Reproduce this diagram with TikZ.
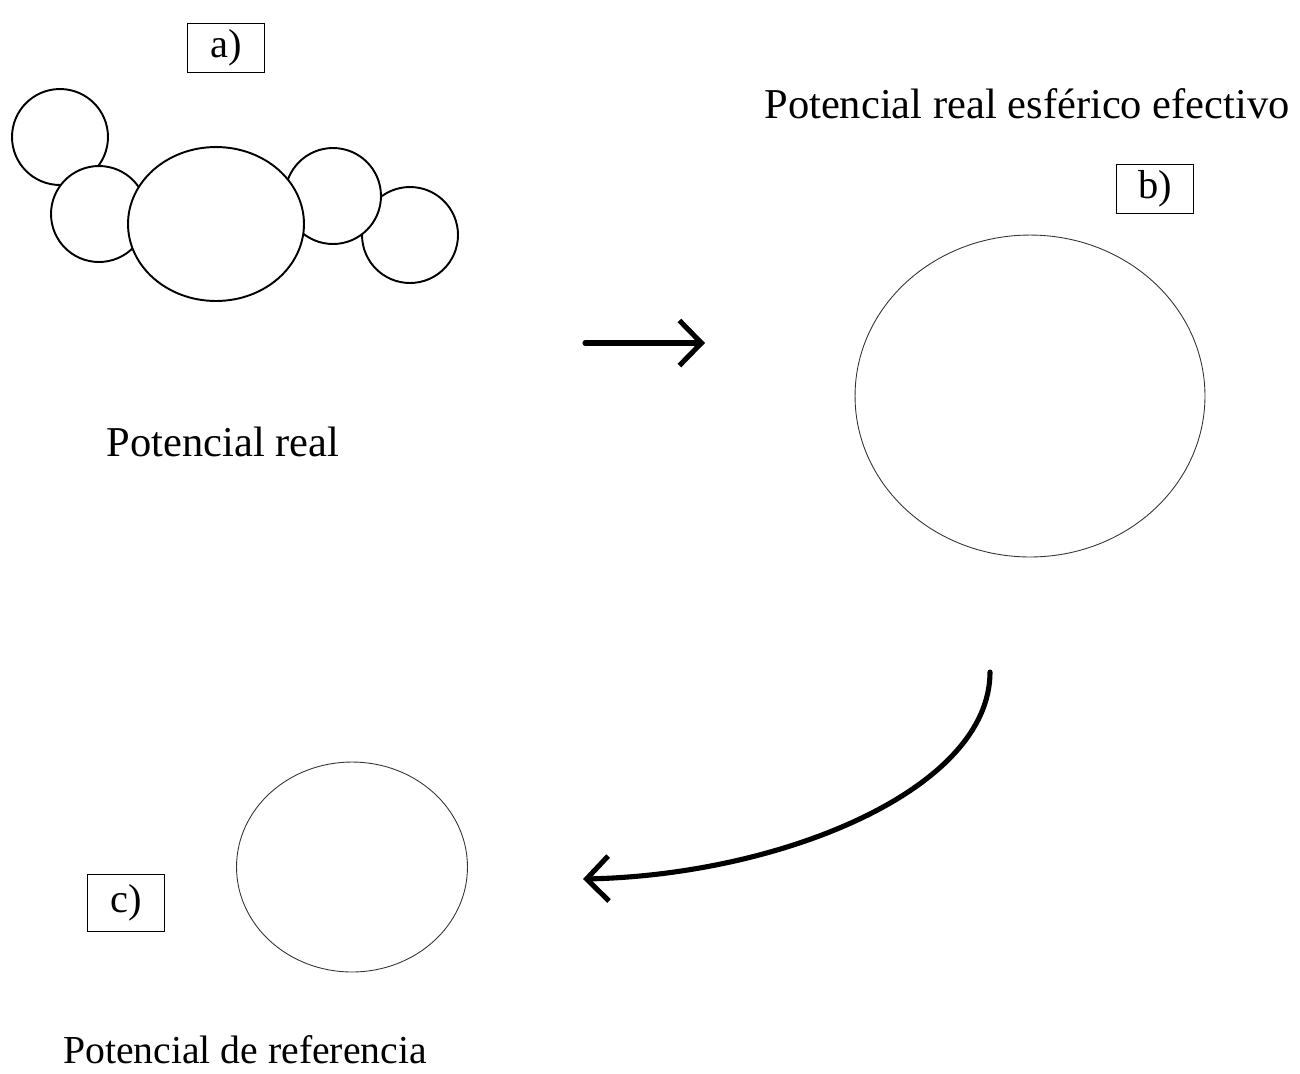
\documentclass[tikz,border=0pt]{standalone}
\usepackage{fontspec}
\setmainfont{Liberation Serif}
\usetikzlibrary{shapes, arrows.meta, positioning}

\begin{document}
\begin{tikzpicture}[x=0.02cm, y=-0.02cm, >={Straight Barb[length=4.4mm, width=9mm]}]
    \tikzstyle{atom} = [ellipse, draw, fill=white, line width=1.1pt, inner sep=0pt, minimum width=1.92cm, minimum height=1.92cm]
    \tikzstyle{sphere} = [ellipse, draw=black!80, line width=0.5pt, inner sep=0pt]
    \tikzstyle{tag} = [rectangle, draw, line width=0.6pt, minimum width=1.55cm, minimum height=0.92cm, font=\fontsize{23}{27}\selectfont]
    \tikzstyle{caption} = [anchor=base, font=\fontsize{24.2}{29}\selectfont]
    \tikzstyle{flow} = [->, line width=2.9pt, line cap=round]

    \useasboundingbox (0,0) rectangle (1300,1073);

    % a) real potential
    \node [atom] (at1) at (60,137) {};
    \node [atom] (at2) at (99,214) {};
    \node [atom] (at5) at (410,235) {};
    \node [atom] (at4) at (333,196) {};
    \node [atom, minimum width=3.52cm, minimum height=3.08cm] (at3) at (216,224) {};
    \node [tag] (taga) at (226,48) {a)};
    \node [caption] (capa) at (223,456) {Potencial real};

    % b) effective spherical potential
    \node [caption] (capb) at (1027,118) {Potencial real esférico efectivo};
    \node [tag] (tagb) at (1155,189) {b)};
    \node [sphere, minimum width=7cm, minimum height=6.44cm] (sphb) at (1030,396) {};

    % c) reference potential
    \node [sphere, minimum width=4.62cm, minimum height=4.2cm] (sphc) at (352,867) {};
    \node [tag, minimum height=1.14cm] (tagc) at (126,903) {c)};
    \node [caption, font=\fontsize{22.6}{27}\selectfont] (capc) at (245,1063) {Potencial de referencia};

    % Connections
    \coordinate (s1) at (585,343);
    \coordinate (e1) at (705,343);
    \coordinate (s2) at (990,672);
    \coordinate (e2) at (583,879);
    \draw[flow] (s1) -- (e1);
    \draw[flow] (s2) .. controls (990,790) and (780,875) .. (e2);
\end{tikzpicture}
\end{document}
